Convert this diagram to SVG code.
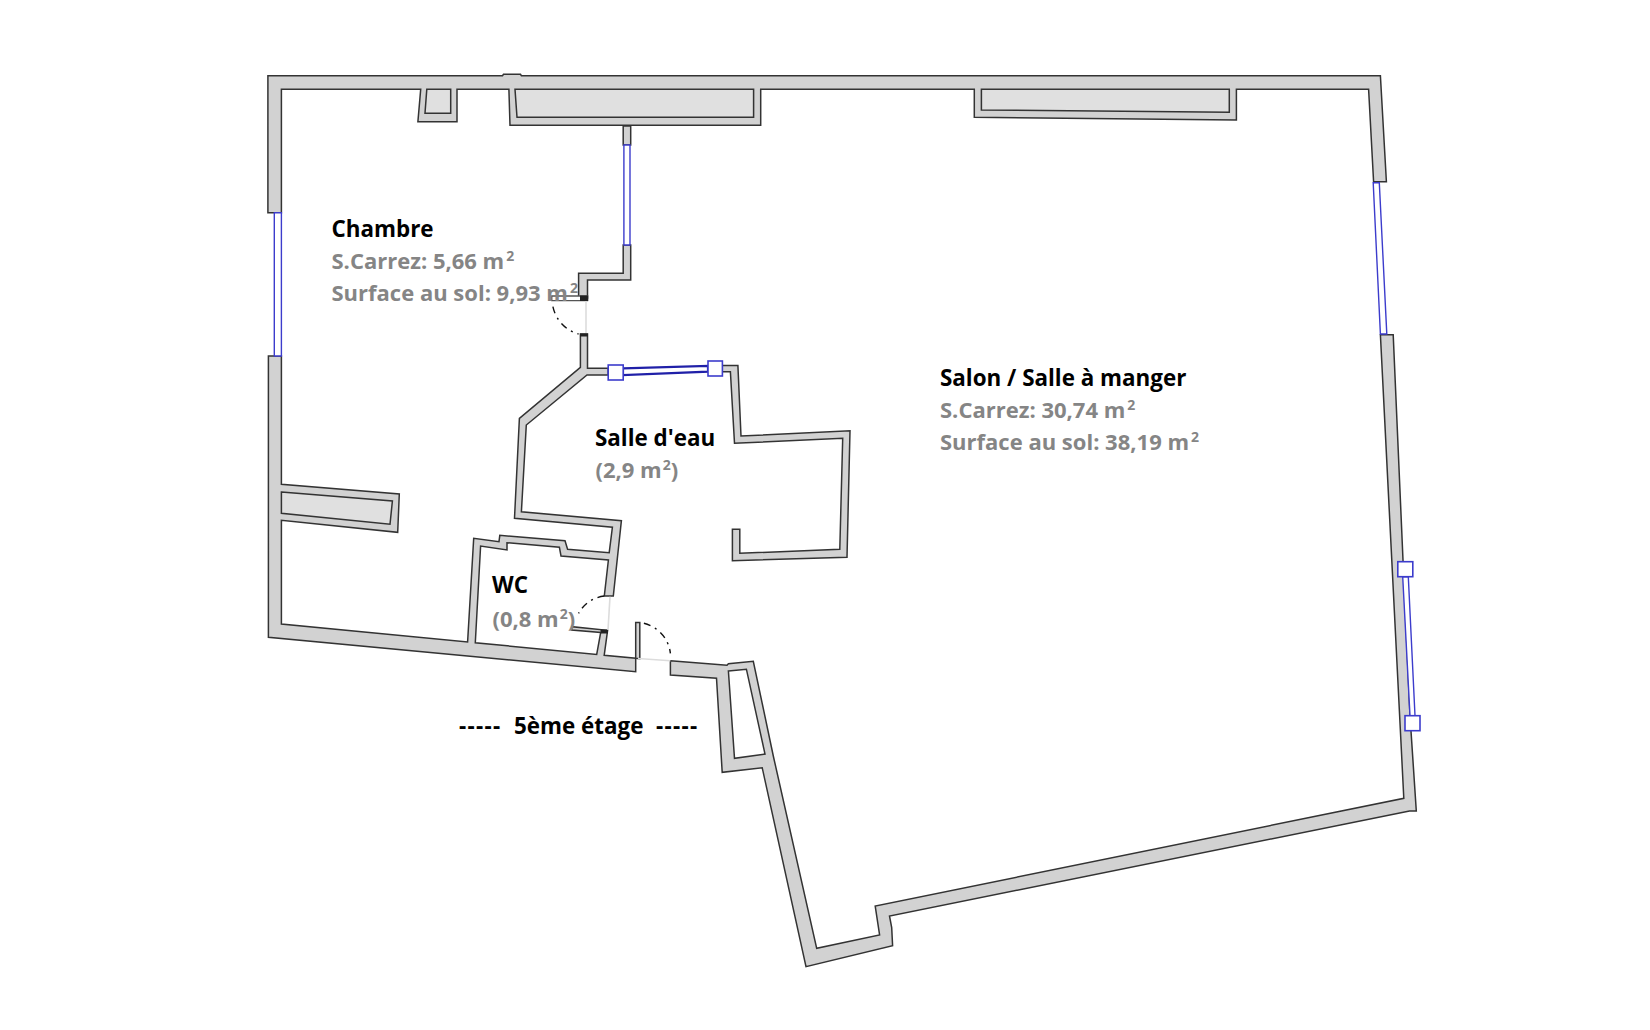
<svg xmlns="http://www.w3.org/2000/svg" width="1650" height="1030" viewBox="0 0 1650 1030">
<style>
.wall{fill:#d2d2d2;stroke:#333;stroke-width:1.5;stroke-linejoin:miter}
.inner{fill:#e0e0e0;stroke:#333;stroke-width:1.5}
.hole{fill:#fff;stroke:#333;stroke-width:1.5}
.leaf{fill:#fff;stroke:#555;stroke-width:1.3}
.cap{fill:#222}
.win{fill:#fff;stroke:#3c3ccc;stroke-width:1.4}
.win2{fill:#fff;stroke:#2020a8;stroke-width:2.2}
.handle{fill:#fff;stroke:#3c3ccc;stroke-width:1.6}
.arc{fill:none;stroke:#111;stroke-width:1.4;stroke-dasharray:7 5 2 5}
.sill{fill:none;stroke:#dcdcdc;stroke-width:1.6}
text{font-family:"Open Sans","Noto Sans",sans-serif;font-weight:700;font-size:22px}
.name{fill:#000;font-size:22.4px}
.area{fill:#858585}
.sup{font-size:14px}
.dash{letter-spacing:1.3px}
</style>
<rect width="1650" height="1030" fill="#fff"/>
<g id="walls">
<path class="wall" d="M267.9 212.7V75.7H502.5L503.5 74.3H520.5L521.4 75.7H1380.4L1386.4 181.7H1373.6L1368.6 89.3H1236.4V120L974.3 117.3V89.3H760.7V125.3H510L508.9 89.3H457V121.7H417.9L420.7 89.3H281.4V212.7Z"/>
<path class="wall" d="M268.4 356H281.4V484.3L399.3 494L397.7 532.3L281.4 520.3V624L467.6 642L473.7 538.3L499 541.7L499.8 535.3L565 540.7L567.6 549.3L609.2 552.7L612.4 527.3L514.5 518.3L519.4 418.3L580.4 367.3V334H587.5V368.3H608.2V375H587L526.3 425L521.4 511.7L621.4 520.7L613.3 596H604.3L608.4 560L561 556L559.4 547.3L507 542.7V550L480.6 546L475.3 642.8L596.7 654.4L600.7 632.4L571.7 630L571.7 626.7L607.6 630.3L604.2 655.3L635.7 658.3V671.7L268.4 637.3Z"/>
<path class="wall" d="M635.7 658.3V622.5H639.8V658.7Z"/>
<path class="wall" d="M623.2 126H630.7V145H623.2Z"/>
<path class="wall" d="M623.2 245H630.7V280H587.5V298H578.6V273.3H623.2Z"/>
<path class="leaf" d="M551.8 296H587.5V300.7H551.8Z"/>
<path class="cap" d="M580 295.5H588.2V301H580Z"/>
<path class="cap" d="M580 333.5H588V336.5H580Z"/>
<path class="cap" d="M600.5 629.5H608V633.5H600.5Z"/>
<path class="wall" d="M722 365.5H737.9L741 436L850 430.7L847 557.3L732.4 560.7V529.3H739.8V553.3L839.8 549.3L842.7 438.3L734.5 443.3L730.4 371.7H722Z"/>
<path class="wall" d="M670.4 660.7L727 665.3L728.4 663.8L753.3 661.3L773.3 756L816.7 948.3L879.6 935L875.2 906L1403.8 798.3L1380.4 334.7H1393.2L1403 560L1410 716L1416.3 811H1409.5L889.5 916L891.7 927.7L892.6 945.7L806 966.7L762.2 767.7L722.2 772.3L716.5 678.3L670.4 675Z"/>
</g>
<g id="closets">
<path class="inner" d="M426.8 89.3H450.7V113.3H425Z"/>
<path class="inner" d="M515 89.3H753.6V117.3H517Z"/>
<path class="inner" d="M981.4 89.3H1229.3V112.3L981.4 110Z"/>
<path class="inner" d="M281.4 492L392.4 501L390 524.3L281.4 513.3Z"/>
<path class="hole" d="M728.4 671L746.4 669.2L765 754L734.5 758.3Z"/>
</g>
<g id="doors">
<path class="sill" d="M586 301V333"/>
<path class="sill" d="M610 596.7L608 630"/>
<path class="sill" d="M638 658.5L670.4 660.7"/>
<path class="arc" d="M552.9 306.7A36 36 0 0 0 578.6 334"/>
<path class="arc" d="M604.3 596A34 34 0 0 0 578.6 613.3"/>
<path class="arc" d="M643.9 623.3A35 35 0 0 1 670.4 653.3"/>
</g>
<g id="windows">
<path class="win" d="M274.3 212.7H281.4V356H274.3Z"/>
<path class="win" d="M623.9 145H630V245H623.9Z"/>
<path class="win2" d="M623 368.4L708 366V371.7L623 375Z"/>
<path class="win" d="M1373.2 182.7H1379.3L1386.8 334H1380.4Z"/>
<path class="win" d="M1402.7 576.7H1408.3L1415 715.7H1410Z"/>
<rect class="handle" x="608.2" y="365" width="15" height="15"/>
<rect class="handle" x="708" y="361" width="14.4" height="15"/>
<rect class="handle" x="1397.8" y="561.7" width="15" height="15"/>
<rect class="handle" x="1405" y="715.7" width="15" height="15"/>
</g>
<g id="labels">
<text class="name" x="331.5" y="236.7">Chambre</text>
<text class="area" x="331.5" y="269.3">S.Carrez: 5,66 m<tspan class="sup" dx="2" dy="-8">2</tspan></text>
<text class="area" x="331.5" y="300.7">Surface au sol: 9,93 m<tspan class="sup" dx="2" dy="-8">2</tspan></text>
<text class="name" x="940" y="385.7">Salon / Salle à manger</text>
<text class="area" x="940" y="417.7">S.Carrez: 30,74 m<tspan class="sup" dx="2" dy="-8">2</tspan></text>
<text class="area" x="940" y="450">Surface au sol: 38,19 m<tspan class="sup" dx="2" dy="-8">2</tspan></text>
<text class="name" x="595" y="445.7">Salle d'eau</text>
<text class="area" x="595.5" y="478.3">(2,9 m<tspan class="sup" dx="1" dy="-8">2</tspan><tspan dy="8">)</tspan></text>
<text class="name" x="492" y="592.7">WC</text>
<text class="area" x="492.5" y="626.7">(0,8 m<tspan class="sup" dx="1" dy="-8">2</tspan><tspan dy="8">)</tspan></text>
<text class="name" y="734.3"><tspan class="dash" x="459">-----</tspan> <tspan x="514">5ème étage</tspan> <tspan class="dash" x="656">-----</tspan></text>
</g>
</svg>
